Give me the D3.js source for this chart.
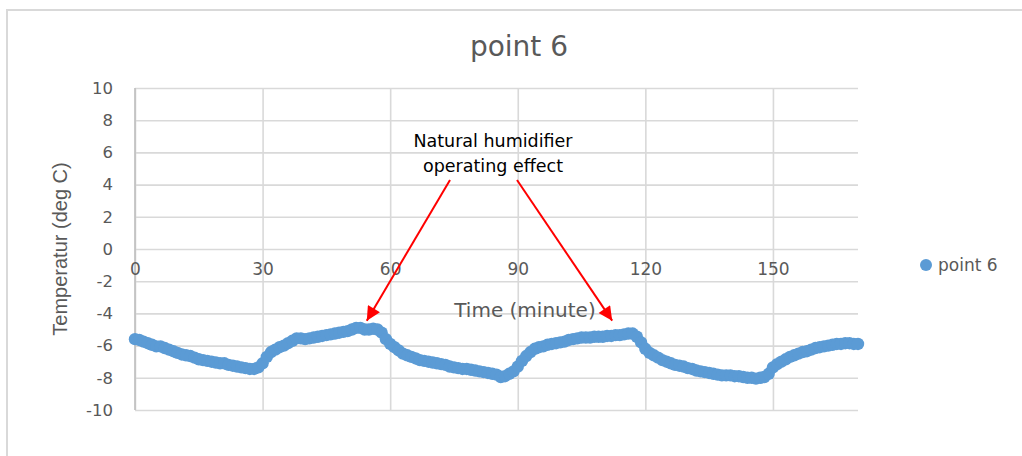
<!DOCTYPE html>
<html><head><meta charset="utf-8">
<script src="https://cdn.jsdelivr.net/npm/d3@7"></script>
<style>html,body{margin:0;padding:0;background:#fff;} svg{display:block;}</style>
</head><body>
<svg id="chart" width="1022" height="456"></svg>
<script>
// ---- data ----
const chartTitle = "point 6";
const seriesName = "point 6";
const xTitle = "Time (minute)";
const yTitle = "Temperatur (deg C)";
const xTicks = [0, 30, 60, 90, 120, 150];
const yTicks = [-10, -8, -6, -4, -2, 0, 2, 4, 6, 8, 10];
const annotationLines = ["Natural humidifier", "operating effect"];
const annotationTargets = [[54.5, -4.45], [112.2, -4.45]];
const timeStep = 1; // minutes between readings
const temperature = [
  -5.6, -5.65, -5.75, -5.85, -5.95, -6.05, -6.05, -6.15, -6.25, -6.35,
  -6.45, -6.55, -6.6, -6.65, -6.75, -6.85, -6.9, -6.95, -7.0, -7.05,
  -7.1, -7.1, -7.2, -7.25, -7.3, -7.35, -7.4, -7.45, -7.45, -7.35,
  -7.1, -6.7, -6.4, -6.25, -6.1, -6.0, -5.85, -5.7, -5.55, -5.55,
  -5.6, -5.55, -5.5, -5.45, -5.4, -5.35, -5.3, -5.25, -5.2, -5.15,
  -5.1, -5.0, -4.9, -4.9, -5.0, -5.0, -4.95, -5.0, -5.2, -5.6,
  -5.9, -6.1, -6.3, -6.5, -6.6, -6.7, -6.8, -6.9, -6.95, -7.0,
  -7.05, -7.1, -7.15, -7.2, -7.3, -7.35, -7.4, -7.45, -7.45, -7.5,
  -7.55, -7.6, -7.65, -7.7, -7.75, -7.8, -7.95, -7.9, -7.75, -7.6,
  -7.3, -6.95, -6.65, -6.4, -6.2, -6.1, -6.05, -5.95, -5.9, -5.85,
  -5.8, -5.75, -5.65, -5.6, -5.55, -5.5, -5.5, -5.5, -5.45, -5.45,
  -5.45, -5.4, -5.4, -5.35, -5.35, -5.3, -5.25, -5.25, -5.45, -5.8,
  -6.2, -6.45, -6.6, -6.75, -6.9, -7.0, -7.1, -7.2, -7.25, -7.3,
  -7.4, -7.45, -7.55, -7.6, -7.65, -7.7, -7.75, -7.8, -7.85, -7.85,
  -7.85, -7.9, -7.9, -7.95, -8.0, -8.0, -8.05, -8.0, -7.95, -7.75,
  -7.35, -7.15, -7.0, -6.85, -6.7, -6.6, -6.5, -6.4, -6.35, -6.25,
  -6.15, -6.1, -6.05, -6.0, -5.95, -5.9, -5.9, -5.85, -5.85, -5.9,
  -5.9
];

// ---- layout ----
const svg = d3.select("#chart");
const W = 1022, H = 456;
const plot = {left: 135, right: 858, top: 88, bottom: 410};
const grey = "#595959", gridCol = "#d9d9d9", blue = "#5b9bd5";
const font = "'DejaVu Sans', sans-serif";
const fmt = d => String(d);

svg.append("rect").attr("width", W).attr("height", H).attr("fill", "#fff");
// outer chart border
svg.append("path").attr("d", `M7,${H} L7,10 L${W},10`)
  .attr("fill", "none").attr("stroke", gridCol).attr("stroke-width", 2);

const x = d3.scaleLinear().domain([0, 170]).range([plot.left, plot.right]);
const y = d3.scaleLinear().domain([-10, 10]).range([plot.bottom, plot.top]);

// horizontal gridlines via axis
svg.append("g").attr("transform", `translate(${plot.left},0)`)
  .call(d3.axisLeft(y).tickValues(yTicks).tickSize(-(plot.right - plot.left)).tickFormat(""))
  .call(g => g.select(".domain").remove())
  .call(g => g.selectAll("line").attr("stroke", gridCol).attr("stroke-width", 1.6));

// vertical gridlines
svg.append("g").attr("transform", `translate(0,${plot.bottom})`)
  .call(d3.axisBottom(x).tickValues(xTicks).tickSize(-(plot.bottom - plot.top)).tickFormat(""))
  .call(g => g.select(".domain").remove())
  .call(g => g.selectAll("line").attr("stroke", gridCol).attr("stroke-width", 1.6));

// y axis line
svg.append("line").attr("x1", x(0)).attr("x2", x(0)).attr("y1", y(10)).attr("y2", y(-10))
  .attr("stroke", "#bfbfbf").attr("stroke-width", 1.6);

// y tick labels
svg.append("g").attr("transform", `translate(${plot.left},0)`)
  .call(d3.axisLeft(y).tickValues(yTicks).tickSize(0).tickPadding(22).tickFormat(fmt))
  .call(g => g.select(".domain").remove())
  .call(g => g.selectAll("text").attr("fill", grey).attr("font-family", font).attr("font-size", 16.5));

// x tick labels (axis crosses at y = 0)
svg.append("g").attr("transform", `translate(0,${y(0)})`)
  .call(d3.axisBottom(x).tickValues(xTicks).tickSize(0).tickPadding(14).tickFormat(fmt))
  .call(g => g.select(".domain").remove())
  .call(g => g.selectAll("text").attr("fill", grey).attr("font-family", font).attr("font-size", 17));

// title
svg.append("text").attr("x", 519).attr("y", 56).attr("text-anchor", "middle")
  .attr("fill", grey).attr("font-family", font).attr("font-size", 28).text(chartTitle);

// axis titles
svg.append("text").attr("transform", `translate(67,${y(0)}) rotate(-90)`)
  .attr("text-anchor", "middle").attr("fill", grey)
  .attr("font-family", "'Liberation Sans', Arial, sans-serif").attr("font-size", 20).text(yTitle);
svg.append("text").attr("x", 525).attr("y", 317).attr("text-anchor", "middle")
  .attr("fill", grey).attr("font-family", font).attr("font-size", 20).text(xTitle);

// series markers
const pts = temperature.map((v, i) => ({t: i * timeStep, v}));
svg.append("g").selectAll("circle").data(pts).join("circle")
  .attr("cx", d => x(d.t)).attr("cy", d => y(d.v)).attr("r", 6.2).attr("fill", blue);

// legend
svg.append("circle").attr("cx", 926).attr("cy", 265).attr("r", 6).attr("fill", blue);
svg.append("text").attr("x", 938).attr("y", 271).attr("fill", grey)
  .attr("font-family", font).attr("font-size", 17).text(seriesName);

// annotation
const ann = svg.append("text").attr("text-anchor", "middle").attr("fill", "#000")
  .attr("font-family", font).attr("font-size", 17.5);
annotationLines.forEach((l, i) => ann.append("tspan").attr("x", 493).attr("y", 147 + i * 25).text(l));

const defs = svg.append("defs");
defs.append("marker").attr("id", "arrow").attr("viewBox", "0 0 10 10")
  .attr("refX", 10).attr("refY", 5).attr("markerWidth", 8).attr("markerHeight", 7)
  .attr("markerUnits", "strokeWidth").attr("orient", "auto")
  .append("path").attr("d", "M0,0 L10,5 L0,10 Z").attr("fill", "#ff0000");

const starts = [[450, 180], [517, 180]];
annotationTargets.forEach((tg, i) => {
  svg.append("line").attr("x1", starts[i][0]).attr("y1", starts[i][1])
    .attr("x2", x(tg[0])).attr("y2", y(tg[1]))
    .attr("stroke", "#ff0000").attr("stroke-width", 2).attr("marker-end", "url(#arrow)");
});
</script>
</body></html>
